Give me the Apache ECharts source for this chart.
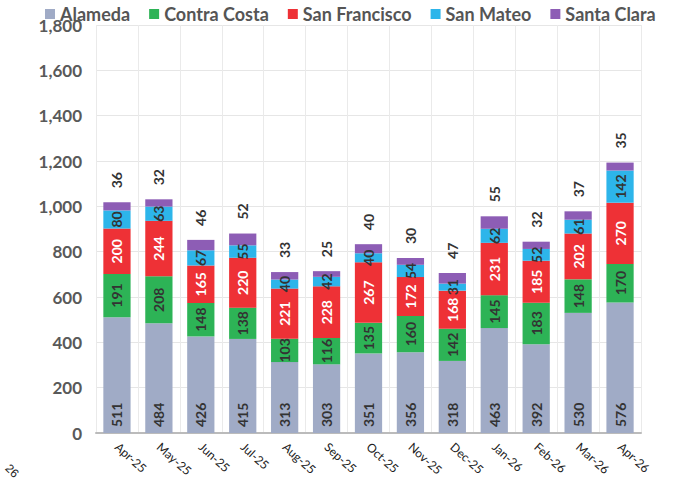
<!DOCTYPE html>
<html>
<head>
<meta charset="utf-8">
<script src="https://cdn.jsdelivr.net/npm/echarts@6/dist/echarts.min.js"></script>
<style>
  html, body { margin: 0; padding: 0; background: #fff; }
  .c { width: 678px; height: 488px; }
</style>
</head>
<body>
<div id="chart" class="c"></div>
<script>
// monthly counts by county
var months = ['Apr-25', 'May-25', 'Jun-25', 'Jul-25', 'Aug-25', 'Sep-25', 'Oct-25', 'Nov-25', 'Dec-25', 'Jan-26', 'Feb-26', 'Mar-26', 'Apr-26']
var alameda = [511, 484, 426, 415, 313, 303, 351, 356, 318, 463, 392, 530, 576]
var contraCosta = [191, 208, 148, 138, 103, 116, 135, 160, 142, 145, 183, 148, 170]
var sanFrancisco = [200, 244, 165, 220, 221, 228, 267, 172, 168, 231, 185, 202, 270]
var sanMateo = [80, 63, 67, 55, 40, 42, 40, 54, 31, 62, 52, 61, 142]
var santaClara = [36, 32, 46, 52, 33, 25, 40, 30, 47, 55, 32, 37, 35]

var font = 'Lato, "Open Sans", sans-serif'

function barLabel (color, position, extra) {
  var l = {
    show: true,
    position: position,
    rotate: 90,
    color: color,
    fontFamily: font,
    fontWeight: 'bold',
    fontSize: 14
  }
  if (extra) {
    l.align = 'left'
    l.verticalAlign = 'middle'
    l.distance = extra
  }
  return l
}

var option = {
  animation: false,
  legend: {
    top: 0,
    left: 40,
    itemWidth: 10,
    itemHeight: 10,
    itemGap: 19,
    icon: 'rect',
    textStyle: { fontFamily: font, fontWeight: 'bold', fontSize: 18, color: '#555' }
  },
  grid: { left: 96, right: 37, top: 25, bottom: 55 },
  xAxis: {
    type: 'category',
    data: months,
    axisLine: { lineStyle: { color: '#bbb', width: 2 } },
    axisTick: { show: false },
    splitLine: { show: true, lineStyle: { color: '#eaeaea' } },
    axisLabel: {
      rotate: -42,
      interval: 0,
      fontFamily: font,
      fontSize: 12,
      color: '#222',
      margin: 12,
      align: 'left'
    }
  },
  yAxis: {
    type: 'value',
    min: 0,
    max: 1800,
    interval: 200,
    axisLine: { show: false },
    axisTick: { show: false },
    splitLine: { lineStyle: { color: '#e6e6e6' } },
    axisLabel: {
      fontFamily: font,
      fontWeight: 'bold',
      fontSize: 17,
      color: '#595959',
      margin: 14,
      formatter: function (v) { return v.toLocaleString('en-US') }
    }
  },
  series: [
    {
      name: 'Alameda',
      type: 'bar',
      stack: 'total',
      barCategoryGap: '35%',
      itemStyle: { color: '#a0abc6' },
      label: barLabel('#333', 'insideBottom', 6),
      data: alameda
    },
    {
      name: 'Contra Costa',
      type: 'bar',
      stack: 'total',
      itemStyle: { color: '#2db356' },
      label: barLabel('#333', 'inside'),
      data: contraCosta
    },
    {
      name: 'San Francisco',
      type: 'bar',
      stack: 'total',
      itemStyle: { color: '#ee3136' },
      label: barLabel('#fff', 'inside'),
      data: sanFrancisco
    },
    {
      name: 'San Mateo',
      type: 'bar',
      stack: 'total',
      itemStyle: { color: '#2db5ea' },
      label: barLabel('#333', 'inside'),
      data: sanMateo
    },
    {
      name: 'Santa Clara',
      type: 'bar',
      stack: 'total',
      itemStyle: { color: '#8d5db5' },
      label: barLabel('#333', 'top', 14),
      data: santaClara
    }
  ],
  graphic: [
    {
      type: 'text',
      left: 3,
      top: 462,
      rotation: -Math.PI / 4,
      style: { text: '26', fontSize: 12, fill: '#222' }
    }
  ]
}

var chart = echarts.init(document.getElementById('chart'), null, { renderer: 'svg' })
chart.setOption(option)
</script>
</body>
</html>
